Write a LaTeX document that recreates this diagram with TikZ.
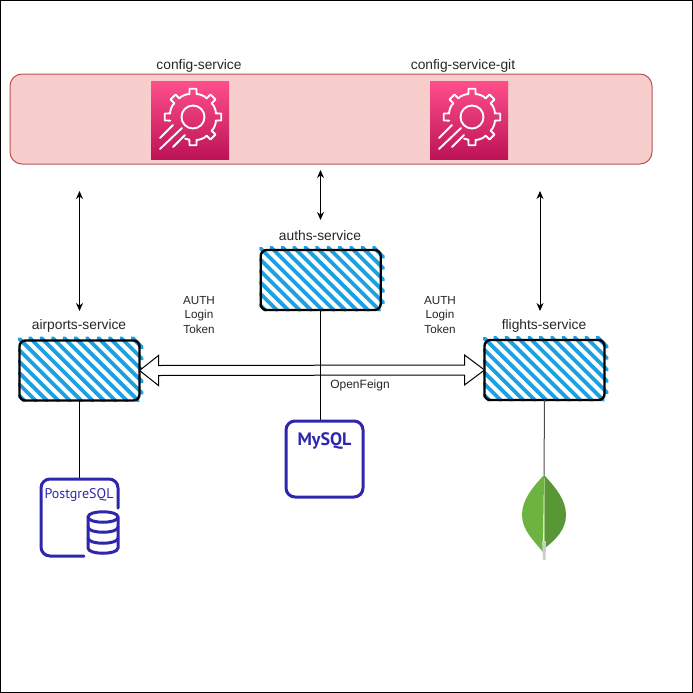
\documentclass[tikz,border=0pt]{standalone}
\usepackage{fontspec}
\setmainfont{Liberation Sans}
\newfontfamily\dbfont{PT Sans}
\usetikzlibrary{backgrounds,calc,arrows.meta}
\definecolor{panelfill}{HTML}{F8CECC}
\definecolor{paneldraw}{HTML}{B85450}
\definecolor{iconlight}{HTML}{FF4F8B}
\definecolor{icondark}{HTML}{BC1356}
\definecolor{hatchblue}{HTML}{1BA1E2}
\definecolor{dbblue}{HTML}{2E27AD}
\definecolor{leafleft}{HTML}{6CB33F}
\definecolor{leafright}{HTML}{599636}
\definecolor{leafvein}{HTML}{9CC77F}
\newcommand{\hatchfill}[1]{%
  \begin{scope}[on background layer, shift={(#1.north west)}]
    \foreach \c in {-55.4,-44,...,116} {
      \pgfmathsetmacro{\ya}{max(-\c,-2.6)}
      \pgfmathsetmacro{\yb}{min(60,122.6-\c)}
      \draw [hatch] ({\c+\ya},\ya) -- ({\c+\yb},\yb);
    }
  \end{scope}}
\newcommand{\gearicon}[1]{%
  \begin{scope}[shift={(#1.center)}, shift={(3,-3)}]
    \draw [gear] (171:23)
      \foreach \a in {180,225,270,315,360,405} {
        -- (\a-9:23) -- (\a-7:28.5) -- (\a+7:28.5) -- (\a+9:23)
        -- (\a+15:23.5) -- (\a+22.5:23.5) -- (\a+30:23.5)
      } -- (441:23) -- (443:28.5) -- (457:28.5) -- (459:23) -- (470:23);
    \draw [gear] (0,0) circle (11.5);
  \end{scope}
  \begin{scope}[shift={(#1.center)}]
    \draw [gear] (-30,18) -- (-17,5);
    \draw [gear] (-30,29) -- (-8,8);
    \draw [gear] (-17,27) -- (-5,15);
  \end{scope}}
\begin{document}
\begin{tikzpicture}[x=1pt, y=-1pt, font=\fontsize{13.8}{16}\selectfont]
  \tikzstyle{panel} = [rectangle, draw=paneldraw, line width=1pt, fill=panelfill, rounded corners=12pt, minimum width=642pt, minimum height=90pt, outer sep=0pt]
  \tikzstyle{icon} = [rectangle, top color=iconlight, bottom color=icondark, minimum size=78pt, inner sep=0pt, outer sep=0pt]
  \tikzstyle{service} = [rectangle, draw=black, line width=2.4pt, rounded corners=6pt, minimum width=120pt, minimum height=60pt, outer sep=0pt]
  \tikzstyle{caption} = [text=black!85]
  \tikzstyle{dbbox} = [minimum size=77pt, inner sep=0pt, outer sep=0pt]
  \tikzstyle{note} = [align=center, text=black!85, font=\fontsize{11.7}{14.6}\selectfont, inner sep=0pt]
  \tikzstyle{hatch} = [hatchblue, line width=3.8pt, line cap=round]
  \tikzstyle{gear} = [white, line width=1.9pt, line join=round, line cap=round]
  \tikzstyle{dbline} = [dbblue, line width=3pt, line cap=round]
  \tikzstyle{arrow} = [line width=1pt,{Stealth[length=8pt,width=7pt]}-{Stealth[length=8pt,width=7pt]}]
  \tikzstyle{link} = [line width=1pt]
  \tikzstyle{bigarrow} = [draw=black, line width=1pt, line join=miter, fill=white]

  \useasboundingbox (0,0) rectangle (693,693);
  \draw [line width=1pt] (0.5,0.5) rectangle (692.5,692.5);

  \node (panel) [panel] at (331,119) {};
  \node (configservice) [icon] at (190,120) {};
  \node (configgit) [icon] at (469,120) {};
  \gearicon{configservice}
  \gearicon{configgit}
  \node (configlabel) [caption] at (199,65.5) {config-service};
  \node (gitlabel) [caption] at (463,65.5) {config-service-git};

  \node (auths) [service] at (320.7,280) {};
  \node (airports) [service] at (79.5,370.5) {};
  \node (flights) [service] at (544.5,370) {};
  \hatchfill{auths}
  \hatchfill{airports}
  \hatchfill{flights}
  \node (authslabel) [caption] at (320,235.5) {auths-service};
  \node (airportslabel) [caption] at (79,325.5) {airports-service};
  \node (flightslabel) [caption] at (544,325.5) {flights-service};

  \node (leftnote) [note] at (199,315) {AUTH\\Login\\Token};
  \node (rightnote) [note] at (440,315) {AUTH\\Login\\Token};

  \node (mysql) [dbbox] at (324.5,459) {};
  \node (postgres) [dbbox] at (79.5,517.5) {};
  \node (mongo) [minimum width=44pt, minimum height=85pt, inner sep=0pt, outer sep=0pt] at (544,517.5) {};

  \draw [bigarrow] (airports.east) -- ++(19,-15) -- ++(0,10) -- ($(flights.west)+(-20,-5)$) -- ++(0,-10) -- (flights.west) -- ++(-20,15) -- ++(0,-10) -- ($(airports.east)+(19,5)$) -- ++(0,10) -- cycle;
  \node (feignlabel) [caption, font=\fontsize{12}{14}\selectfont, inner sep=0pt] at (360,385) {OpenFeign};

  \draw [link] (airports.south) -- (airports.south |- postgres.north);
  \draw [link] (auths.south) -- (auths.south |- mysql.north);
  \draw [link, black!70] (flights.south) -- (mongo.north);

  \coordinate (airportstop) at (79.5,191);
  \coordinate (airportsend) at (79.5,311);
  \coordinate (authstop) at (320.5,170);
  \coordinate (authsend) at (320.5,220);
  \coordinate (flightstop) at (540,191);
  \coordinate (flightsend) at (540,311);
  \draw [arrow] (airportstop) -- (airportsend);
  \draw [arrow] (authstop) -- (authsend);
  \draw [arrow] (flightstop) -- (flightsend);

  \draw [dbline, rounded corners=9pt] (286,421) rectangle (363,497);
  \node (mysqllabel) [dbblue, font=\dbfont\bfseries\fontsize{18}{20}\selectfont, inner sep=0pt] at (324.5,441) {MySQL};

  \draw [dbline, rounded corners=9pt] (84,556) -- (41,556) -- (41,479) -- (118,479) -- (118,508);
  \node (postgreslabel) [dbblue, font=\dbfont\fontsize{14}{16}\selectfont, inner sep=0pt] at (79,495) {PostgreSQL};
  \draw [dbline, fill=white] (88,517) -- (88,548) .. controls (88,555) and (118,555) .. (118,548) -- (118,517) .. controls (118,510) and (88,510) .. (88,517) -- cycle;
  \draw [dbline] (88,517) .. controls (88,524) and (118,524) .. (118,517);
  \draw [dbline] (88,527) .. controls (88,534) and (118,534) .. (118,527);
  \draw [dbline] (88,538) .. controls (88,545) and (118,545) .. (118,538);

  \fill [leafleft] (544,475) .. controls (532,488) and (522,500) .. (522,515) .. controls (522,530) and (534,541) .. (543,552) -- cycle;
  \fill [leafright] (544,475) .. controls (556,488) and (566,500) .. (566,515) .. controls (566,530) and (555,540) .. (545,548) -- cycle;
  \fill [black!20] (542,541) -- (546,541) -- (545.5,560) -- (543,560) -- cycle;
  \draw [leafvein, line width=0.6pt] (544,478) -- (544,541);
\end{tikzpicture}
\end{document}
